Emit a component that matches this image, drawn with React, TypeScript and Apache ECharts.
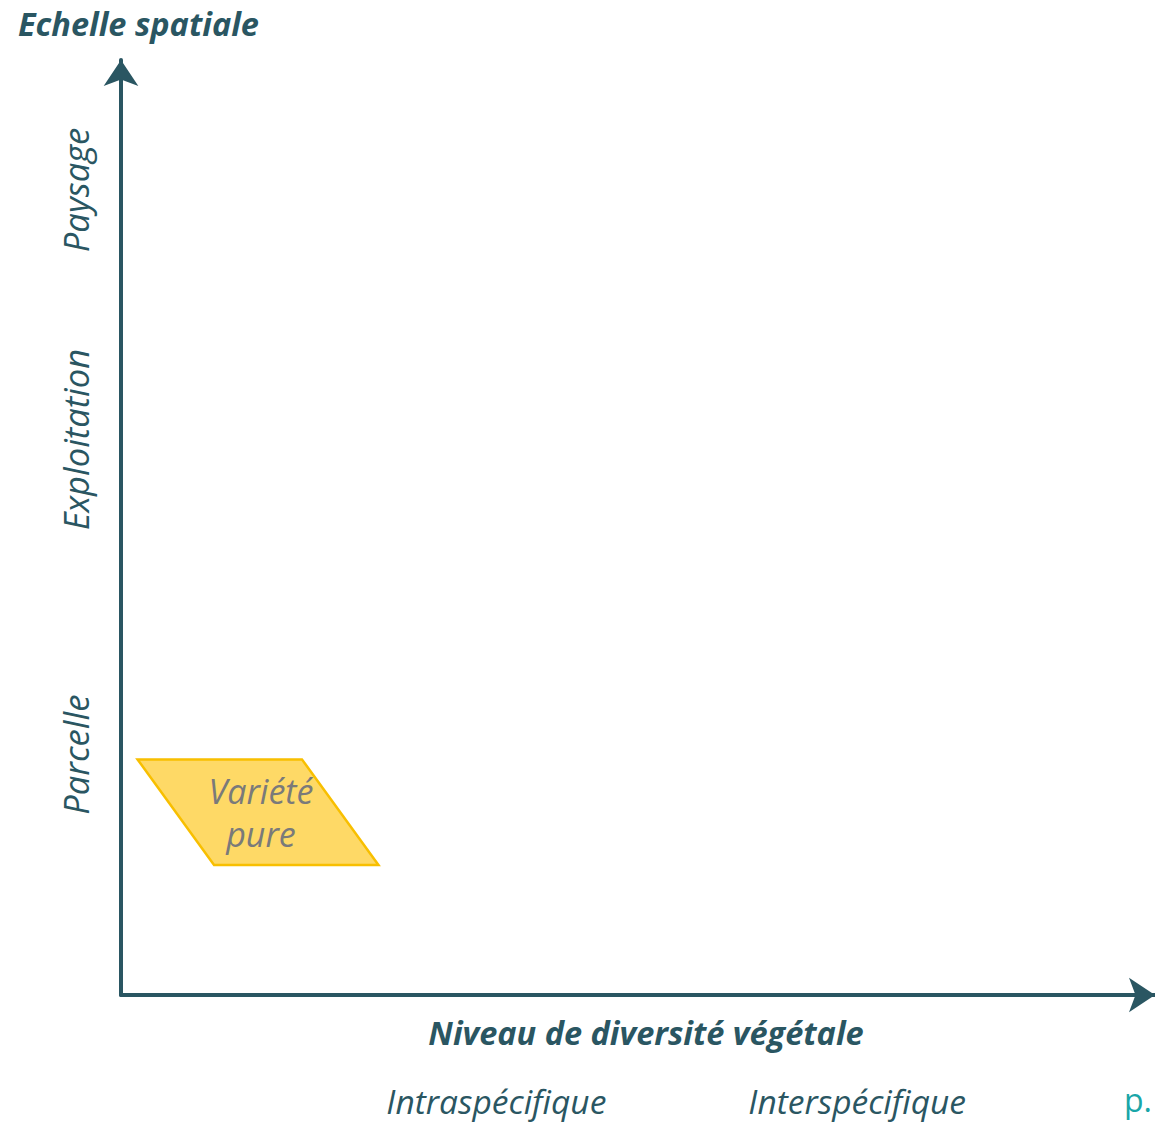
import React, { useEffect, useRef } from "react";
import * as echarts from "echarts";

// Axis categories (positions on a 0–100 conceptual scale)
const xCategories = ["Intraspécifique", "Interspécifique"];
const xCategoryValues = [36.3, 71.2];
const yCategories = ["Parcelle", "Exploitation", "Paysage"];
const yCategoryValues = [25.7, 59.4, 86.1];

// Shapes (parallelograms) in the diagram
const shapeLabels = ["Variété\npure"];
const shapeTop = [25.2];
const shapeBottom = [13.9];
const shapeTopLeft = [1.6];
const shapeTopRight = [17.5];
const shapeBottomLeft = [9.0];
const shapeBottomRight = [24.9];

const DARK = "#2a5662";
const FONT = "'Open Sans', Lato, sans-serif";

export default function App() {
  const ref = useRef<HTMLDivElement>(null);
  useEffect(() => {
    if (!ref.current) return;
    const chart = echarts.init(ref.current, undefined, { renderer: "svg" });
    const data = shapeLabels.map((label, i) => [
      shapeTopLeft[i],
      shapeTopRight[i],
      shapeBottomRight[i],
      shapeBottomLeft[i],
      shapeTop[i],
      shapeBottom[i],
      label,
    ]);
    chart.setOption({
      animation: false,
      title: {
        text: "Echelle spatiale",
        left: 13,
        top: 2,
        textStyle: {
          fontFamily: FONT,
          fontStyle: "italic",
          fontWeight: "bold",
          fontSize: 32.5,
          color: DARK,
        },
      },
      grid: {
        left: 121,
        right: 0,
        top: 60,
        bottom: 129,
        containLabel: false,
        outerBoundsMode: "none",
      },
      xAxis: {
        type: "value",
        min: 0,
        max: 100,
        name: "Niveau de diversité végétale",
        nameLocation: "middle",
        nameGap: 21,
        nameMoveOverlap: false,
        nameTextStyle: {
          fontFamily: FONT,
          fontStyle: "italic",
          fontWeight: "bold",
          fontSize: 32.5,
          color: DARK,
          padding: [0, 0, 0, 16],
        },
        axisLine: {
          show: true,
          symbol: ["none", "arrow"],
          symbolSize: [26, 26],
          lineStyle: { color: DARK, width: 4 },
        },
        axisTick: { show: false },
        splitLine: { show: false },
        axisLabel: {
          customValues: xCategoryValues,
          margin: 89,
          fontFamily: FONT,
          fontStyle: "italic",
          fontSize: 33.5,
          lineHeight: 34,
          color: DARK,
          formatter: (v: number) => {
            const i = xCategoryValues.indexOf(v);
            return i >= 0 ? xCategories[i] : "";
          },
        },
      },
      yAxis: {
        type: "value",
        min: 0,
        max: 100,
        axisLine: {
          show: true,
          symbol: ["none", "arrow"],
          symbolSize: [26, 26],
          lineStyle: { color: DARK, width: 4 },
        },
        axisTick: { show: false },
        splitLine: { show: false },
        axisLabel: {
          customValues: yCategoryValues,
          rotate: 90,
          margin: 28,
          fontFamily: FONT,
          fontStyle: "italic",
          fontSize: 34.5,
          color: DARK,
          formatter: (v: number) => {
            const i = yCategoryValues.indexOf(v);
            return i >= 0 ? yCategories[i] : "";
          },
        },
      },
      graphic: [
        {
          type: "text",
          left: 1124,
          top: 1083,
          style: {
            text: "p.",
            fontFamily: FONT,
            fontSize: 32,
            fill: "#1aa6a8",
          },
        },
      ],
      series: [
        {
          type: "custom",
          data,
          encode: { x: [0, 1, 2, 3], y: [4, 5] },
          renderItem: (params: any, api: any) => {
            const tl = api.coord([api.value(0), api.value(4)]);
            const tr = api.coord([api.value(1), api.value(4)]);
            const br = api.coord([api.value(2), api.value(5)]);
            const bl = api.coord([api.value(3), api.value(5)]);
            const cx = (tl[0] + tr[0] + br[0] + bl[0]) / 4;
            const cy = (tl[1] + bl[1]) / 2;
            return {
              type: "group",
              children: [
                {
                  type: "polygon",
                  shape: { points: [tl, tr, br, bl] },
                  style: { fill: "#fed966", stroke: "#f8bf00", lineWidth: 2.5 },
                },
                {
                  type: "text",
                  x: cx + 3,
                  y: cy,
                  style: {
                    text: shapeLabels[params.dataIndex],
                    align: "center",
                    verticalAlign: "middle",
                    fontFamily: FONT,
                    fontStyle: "italic",
                    fontSize: 34,
                    lineHeight: 43,
                    fill: "#7a7a7a",
                  },
                },
              ],
            };
          },
        },
      ],
    });
    return () => chart.dispose();
  }, []);
  return (
    <div
      ref={ref}
      style={{ position: "absolute", left: 0, top: 0, width: 1155, height: 1124 }}
    />
  );
}
